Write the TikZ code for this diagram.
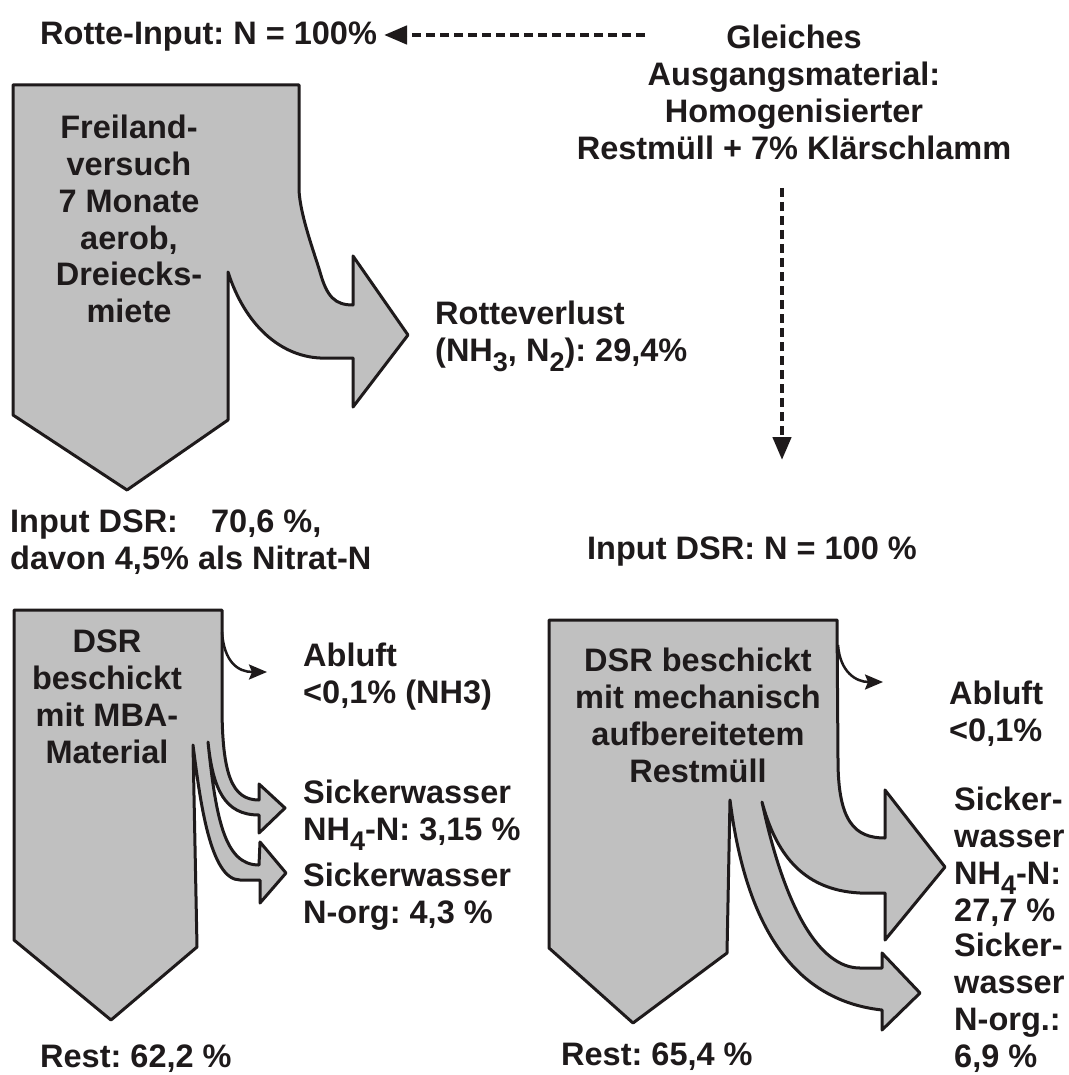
\documentclass[tikz,border=0pt]{standalone}
\usepackage{fontspec}
\setmainfont{Liberation Sans}
\usetikzlibrary{arrows.meta}
\definecolor{flowgray}{RGB}{192,192,192}
\definecolor{ink}{RGB}{30,26,27}
\newcommand{\subidx}[1]{\raisebox{-0.3em}{\fontsize{27}{27}\selectfont #1}}
\frenchspacing
\begin{document}
\frenchspacing
\begin{tikzpicture}[x=1pt,y=-1pt,
  txt/.style={font=\fontsize{32.5}{36.8}\selectfont\bfseries\frenchspacing, text=ink, inner sep=0pt},
  one/.style={txt, text height=23pt, text depth=0pt, anchor=west},
  blockc/.style={txt, align=center, anchor=north},
  blockl/.style={txt, align=left, anchor=north west},
  flow/.style={fill=flowgray, draw=ink, line width=3pt, line join=round},
  dashline/.style={draw=ink, line width=4.5pt, dash pattern=on 9pt off 5pt, -{Triangle[length=23pt,width=18pt]}},
  thinarrow/.style={draw=ink, line width=2.5pt, -{Stealth[length=18pt,width=15pt,inset=3pt]}}
]
\fill[white] (0,0) rectangle (1068,1075);
\useasboundingbox (0,0) rectangle (1068,1075);

% flow shapes
\draw[flow] (13,85) -- (299,85) -- (299,190) .. controls (300,215) and (315,255) .. (320,272)
  .. controls (327,297) and (335,305) .. (353,305) -- (353,256) -- (408,335) -- (353,407) -- (353,358)
  -- (320,358) .. controls (280,356) and (245,325) .. (228,272) -- (228,420) -- (127,490) -- (13,415) -- cycle;

\draw[flow] (14,610) -- (222,610) -- (222,705) .. controls (222,775) and (232,800) .. (259,800)
  -- (259,784) -- (285,808) -- (259,833) -- (259,815) .. controls (225,815) and (213,790) .. (208,742)
  .. controls (216,820) and (225,865) .. (259,865) -- (260,842) -- (286,873) -- (260,903) -- (260,880)
  -- (240,880) .. controls (210,880) and (200,800) .. (193,745) -- (197,947) -- (111,1020) -- (14,940) -- cycle;

\draw[flow] (549,620) -- (837,620) -- (838,760) .. controls (838,822) and (855,838) .. (885,838)
  -- (885,790) -- (945,867) -- (885,940) -- (885,893) -- (860,893) .. controls (800,890) and (775,850) .. (762,802)
  .. controls (785,910) and (820,968) .. (860,968) -- (882,968) -- (882,953) -- (920,993) -- (882,1030) -- (882,1010)
  .. controls (790,1000) and (745,920) .. (730,800) -- (727,953) -- (633,1023) -- (549,948) -- cycle;

% texts
\node[one] (rotteinput) at (40,33) {Rotte-Input: N = 100\%};
\node[blockc] (gleich) at (794,25) {Gleiches\\Ausgangsmaterial:\\Homogenisierter\\Restmüll + 7\% Klärschlamm};
\node[blockc] (freiland) at (129,115) {Freiland-\\versuch\\7 Monate\\aerob,\\Dreiecks-\\miete};
\node[blockl] (verlust) at (435,301) {Rotteverlust\\(NH\subidx{3}, N\subidx{2}): 29,4\%};
\node[blockl] (inleft) at (10,510) {Input DSR:\hspace{24pt} 70,6 \%,\\davon 4,5\% als Nitrat-N};
\node[one] (inright) at (587,548) {Input DSR: N = 100 \%};

\node[blockc] (mbatext) at (107,630) {DSR\\beschickt\\mit MBA-\\Material};
\node[blockl] (abluftL) at (303,643) {Abluft\\<0,1\% (NH3)};
\node[blockl] (sickL1) at (303,780) {Sickerwasser\\NH\subidx{4}-N: 3,15 \%};
\node[blockl] (sickL2) at (303,863) {Sickerwasser\\N-org: 4,3 \%};
\node[one] (restL) at (40,1056) {Rest: 62,2 \%};

\node[blockc] (mechtext) at (698,648) {DSR beschickt\\mit mechanisch\\aufbereitetem\\Restmüll};
\node[blockl] (abluftR) at (949,681) {Abluft\\<0,1\%};
\node[blockl] (sickR1) at (954,787) {Sicker-\\wasser\\NH\subidx{4}-N:\\27,7 \%};
\node[blockl] (sickR2) at (954,933) {Sicker-\\wasser\\N-org.:\\6,9 \%};
\node[one] (restR) at (561,1054) {Rest: 65,4 \%};

% dashed connectors
\coordinate (hstart) at (645,35);
\coordinate (htip) at (384,35);
\draw[dashline] (hstart) -- (htip);
\coordinate (vstart) at (782,188);
\coordinate (vtip) at (782,460);
\draw[dashline] (vstart) -- (vtip);

% exhaust arrows
\coordinate (abLs) at (222,632);
\coordinate (abLe) at (267,672);
\draw[thinarrow] (abLs) .. controls (224,662) and (238,672) .. (abLe);
\coordinate (abRs) at (838,645);
\coordinate (abRe) at (883,682);
\draw[thinarrow] (abRs) .. controls (840,672) and (856,682) .. (abRe);
\end{tikzpicture}
\end{document}
